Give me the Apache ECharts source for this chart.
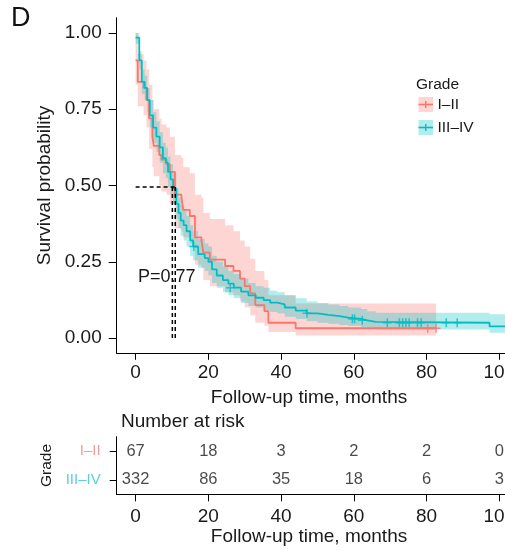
<!DOCTYPE html>
<html><head><meta charset="utf-8">
<script src="https://cdn.jsdelivr.net/npm/echarts@6/dist/echarts.min.js"></script>
<style>html,body{margin:0;padding:0;background:#fff}#c{width:505px;height:552px}</style>
</head><body><div id="c"></div>
<script>
// ---- data ----
const xTicks = [0, 20, 40, 60, 80, 100];
const yTicks = [0, 0.25, 0.5, 0.75, 1];
const groups = ['I–II', 'III–IV'];

// Grade I–II : step times, survival, upper / lower confidence
const t1  = [0,0.6,2.2,3.0,3.7,4.6,5.0,6.5,7.1,8.5,9.4,10.8,12.6,13.1,14.9,16.3,18.1,18.6,20.4,24.6,26.9,28.7,30.0,31.5,32.9,35.4,36.5,44.0,82.6];
const s1  = [0.91,0.84,0.82,0.78,0.72,0.66,0.63,0.60,0.585,0.57,0.545,0.47,0.46,0.42,0.40,0.33,0.32,0.28,0.257,0.236,0.22,0.195,0.17,0.146,0.108,0.088,0.05,0.032,0.032];
const hi1 = [1.0,0.93,0.91,0.88,0.83,0.78,0.75,0.72,0.70,0.69,0.66,0.60,0.59,0.56,0.54,0.47,0.46,0.41,0.39,0.37,0.35,0.32,0.30,0.26,0.22,0.19,0.14,0.113,0.113];
const lo1 = [0.83,0.76,0.73,0.69,0.62,0.56,0.53,0.50,0.48,0.47,0.44,0.36,0.35,0.33,0.31,0.24,0.23,0.19,0.17,0.15,0.14,0.12,0.10,0.075,0.05,0.04,0.02,0.008,0.008];
const cens1T = [80.3, 82.6];
const cens1S = [0.032, 0.032];

// Grade III–IV
const t2  = [0,1.0,1.7,2.5,3.2,3.9,4.8,5.7,6.6,7.5,8.3,8.9,9.6,10.3,11.2,11.8,12.4,13.2,14.0,15.0,15.8,17.2,19.0,20.0,21.0,22.3,24.0,25.5,27.0,29.0,31.0,33.0,35.2,37.0,39.0,41.0,44.0,47.0,50.0,53.0,56.0,58.5,62.0,63.7,66.0,97.3,106];
const s2  = [0.985,0.91,0.84,0.82,0.78,0.73,0.69,0.66,0.625,0.59,0.575,0.545,0.52,0.49,0.44,0.41,0.385,0.37,0.35,0.32,0.30,0.275,0.262,0.25,0.225,0.205,0.19,0.178,0.165,0.152,0.14,0.132,0.124,0.116,0.11,0.10,0.09,0.081,0.076,0.072,0.067,0.063,0.058,0.053,0.05,0.038,0.038];
const hi2 = [1.0,0.94,0.88,0.86,0.82,0.78,0.74,0.71,0.675,0.64,0.625,0.595,0.57,0.54,0.49,0.46,0.435,0.42,0.40,0.37,0.35,0.325,0.31,0.30,0.27,0.25,0.235,0.22,0.21,0.195,0.18,0.17,0.165,0.155,0.15,0.14,0.13,0.12,0.115,0.11,0.105,0.10,0.095,0.088,0.083,0.078,0.078];
const lo2 = [0.965,0.88,0.80,0.78,0.74,0.69,0.64,0.61,0.575,0.54,0.525,0.495,0.47,0.44,0.39,0.36,0.335,0.32,0.30,0.27,0.255,0.23,0.22,0.205,0.18,0.165,0.15,0.14,0.13,0.115,0.105,0.10,0.09,0.085,0.08,0.07,0.062,0.055,0.05,0.047,0.043,0.04,0.036,0.032,0.028,0.017,0.017];
const cens2T = [16.0,26.0,47.1,59.6,60.2,62.3,69.2,72.5,73.4,74.3,75.2,77.5,78.5,85.4,88.4];
const cens2S = [0.30,0.165,0.081,0.063,0.063,0.058,0.05,0.05,0.05,0.05,0.05,0.05,0.05,0.05,0.05];

// median guide lines
const medianY = 0.495;
const medianT = [10.1, 10.9];
const pText = 'P=0.77';

// number at risk
const riskTimes = [0, 20, 40, 60, 80, 100];
const risk1 = [67, 18, 3, 2, 2, 0];
const risk2 = [332, 86, 35, 18, 6, 3];

// ---- styles ----
const RED = '#F8766D', TEAL = '#00BFC4';
const RED_BAND = 'rgba(248,118,109,0.3)', TEAL_BAND = 'rgba(0,191,196,0.3)';
const FONT = '"Liberation Sans", Arial, Helvetica, sans-serif';
const TXT = '#1a1a1a';
const XMIN = -5.2, XMAX = 106;
const CROSS = 'path://M-1,-6H1V-1H6V1H1V6H-1V1H-6V-1H-1Z';

function band(name, ts, his, los, color) {
  return {
    type: 'custom', name: name, silent: true, xAxisIndex: 0, yAxisIndex: 0,
    data: ts.map((t, i) => [t, los[i], his[i]]),
    encode: { x: 0, y: [1, 2] },
    renderItem: function (params, api) {
      if (params.dataIndex !== 0) return;
      const n = ts.length, pts = [];
      for (let i = 0; i < n - 1; i++) {
        pts.push(api.coord([api.value(0, i), api.value(2, i)]));
        pts.push(api.coord([api.value(0, i + 1), api.value(2, i)]));
      }
      for (let i = n - 2; i >= 0; i--) {
        pts.push(api.coord([api.value(0, i + 1), api.value(1, i)]));
        pts.push(api.coord([api.value(0, i), api.value(1, i)]));
      }
      return { type: 'polygon', shape: { points: pts }, style: { fill: color, stroke: null } };
    }
  };
}
function step(name, ts, ss, color) {
  return {
    type: 'line', name: name, step: 'end', showSymbol: false, silent: true,
    xAxisIndex: 0, yAxisIndex: 0,
    data: ts.map((t, i) => [t, ss[i]]),
    lineStyle: { color: color, width: 1.8 }
  };
}
function cens(ts, ss, color) {
  return {
    type: 'scatter', silent: true, xAxisIndex: 0, yAxisIndex: 0,
    symbol: CROSS, symbolSize: 9,
    data: ts.map((t, i) => [t, ss[i]]),
    itemStyle: { color: color }
  };
}
function dash(pts) {
  return {
    type: 'line', silent: true, showSymbol: false, xAxisIndex: 0, yAxisIndex: 0,
    data: pts, lineStyle: { color: '#000', width: 1.5, type: [4, 3] }
  };
}

const riskData = [];
riskTimes.forEach((t, i) => riskData.push([t, groups[0], risk1[i]]));
riskTimes.forEach((t, i) => riskData.push([t, groups[1], risk2[i]]));

const axisLine = { show: true, onZero: false, lineStyle: { color: '#000', width: 1 } };

const option = {
  animation: false,
  backgroundColor: '#fff',
  textStyle: { fontFamily: FONT },
  title: [
    { text: 'D', left: 11, top: 5, padding: 0, textStyle: { fontSize: 27, fontWeight: 'normal', color: '#111', fontFamily: FONT } },
    { text: 'Follow-up time, months', left: 309, textAlign: 'center', top: 388, padding: 0, textStyle: { fontSize: 19, fontWeight: 'normal', color: TXT, fontFamily: FONT } },
    { text: 'Number at risk', left: 121, top: 412, padding: 0, textStyle: { fontSize: 19, fontWeight: 'normal', color: TXT, fontFamily: FONT } },
    { text: 'Follow-up time, months', left: 309, textAlign: 'center', top: 527, padding: 0, textStyle: { fontSize: 19, fontWeight: 'normal', color: TXT, fontFamily: FONT } },
    { text: pText, left: 138, top: 268, padding: 0, textStyle: { fontSize: 18, fontWeight: 'normal', color: TXT, fontFamily: FONT } }
  ],
  grid: [
    { left: 116.7, top: 17.75, width: 404.5, height: 335.5, outerBoundsMode: 'none', containLabel: false },
    { left: 116.7, top: 436.7, width: 404.5, height: 57.6, outerBoundsMode: 'none', containLabel: false }
  ],
  xAxis: [
    { type: 'value', gridIndex: 0, min: XMIN, max: XMAX, axisLine: axisLine,
      splitLine: { show: false },
      axisTick: { show: true, length: 6.5, customValues: xTicks, lineStyle: { color: '#000' } },
      axisLabel: { customValues: xTicks, fontSize: 19, color: TXT, margin: 10, fontFamily: FONT } },
    { type: 'value', gridIndex: 1, min: XMIN, max: XMAX, axisLine: axisLine,
      splitLine: { show: false },
      axisTick: { show: true, length: 7, customValues: xTicks, lineStyle: { color: '#000' } },
      axisLabel: { customValues: xTicks, fontSize: 19, color: TXT, margin: 13, fontFamily: FONT } }
  ],
  yAxis: [
    { type: 'value', gridIndex: 0, min: -0.05, max: 1.05, axisLine: axisLine,
      splitLine: { show: false },
      axisTick: { show: true, length: 8, customValues: yTicks, lineStyle: { color: '#000' } },
      axisLabel: { customValues: yTicks, fontSize: 19, color: TXT, margin: 15, fontFamily: FONT,
        formatter: v => Number(v).toFixed(2) },
      name: 'Survival probability', nameLocation: 'middle', nameRotate: 90, nameGap: 54,
      nameTextStyle: { fontSize: 19, color: TXT, fontFamily: FONT } },
    { type: 'category', gridIndex: 1, data: groups, inverse: true, axisLine: axisLine,
      axisTick: { show: true, length: 7, alignWithLabel: true, lineStyle: { color: '#000' } },
      axisLabel: { fontSize: 15, margin: 16, fontFamily: FONT,
        color: (v, i) => (v === groups[0] ? '#F49C97' : '#5ECFD2') },
      name: 'Grade', nameLocation: 'middle', nameRotate: 90, nameGap: 55,
      nameTextStyle: { fontSize: 15.5, color: TXT, fontFamily: FONT } }
  ],
  series: [
    band('I–II band', t1, hi1, lo1, RED_BAND),
    step('I–II', t1, s1, RED),
    band('III–IV band', t2, hi2, lo2, TEAL_BAND),
    step('III–IV', t2, s2, TEAL),
    cens(cens1T, cens1S, RED),
    cens(cens2T, cens2S, TEAL),
    dash([[0, medianY], [medianT[1], medianY]]),
    dash([[medianT[0], medianY], [medianT[0], 0]]),
    dash([[medianT[1], medianY], [medianT[1], 0]]),
    { type: 'scatter', silent: true, xAxisIndex: 1, yAxisIndex: 1, symbolSize: 1,
      data: riskData, encode: { x: 0, y: 1 },
      itemStyle: { color: 'rgba(0,0,0,0)' },
      label: { show: true, position: 'inside', formatter: p => String(p.value[2]),
        fontSize: 16.5, color: TXT, fontFamily: FONT } }
  ],
  graphic: [
    { type: 'group', silent: true, children: [
      { type: 'text', x: 416, y: 85, style: { text: 'Grade', fontSize: 15.5, fontFamily: FONT, fill: TXT, verticalAlign: 'middle' } },
      { type: 'rect', shape: { x: 418.5, y: 97, width: 14.5, height: 15 }, style: { fill: RED_BAND } },
      { type: 'line', shape: { x1: 418.5, y1: 104.5, x2: 433, y2: 104.5 }, style: { stroke: RED, lineWidth: 1.6 } },
      { type: 'line', shape: { x1: 425.75, y1: 101, x2: 425.75, y2: 108 }, style: { stroke: RED, lineWidth: 1.4 } },
      { type: 'text', x: 437.5, y: 104.5, style: { text: 'I–II', fontSize: 15.5, fontFamily: FONT, fill: TXT, verticalAlign: 'middle' } },
      { type: 'rect', shape: { x: 418.5, y: 120, width: 14.5, height: 15 }, style: { fill: TEAL_BAND } },
      { type: 'line', shape: { x1: 418.5, y1: 127.5, x2: 433, y2: 127.5 }, style: { stroke: TEAL, lineWidth: 1.6 } },
      { type: 'line', shape: { x1: 425.75, y1: 124, x2: 425.75, y2: 131 }, style: { stroke: TEAL, lineWidth: 1.4 } },
      { type: 'text', x: 437.5, y: 127.7, style: { text: 'III–IV', fontSize: 15.5, fontFamily: FONT, fill: TXT, verticalAlign: 'middle' } }
    ] }
  ]
};
const chart = echarts.init(document.getElementById('c'), null, { renderer: 'canvas' });
chart.setOption(option);
</script>
</body></html>
